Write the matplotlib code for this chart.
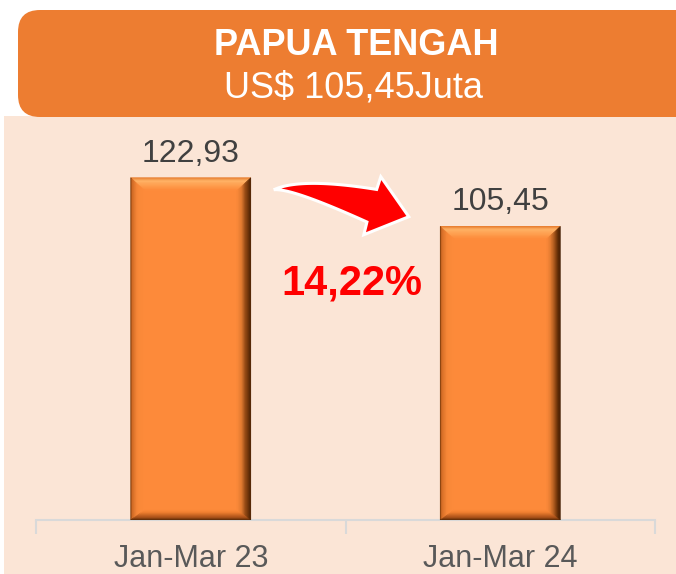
import matplotlib
matplotlib.use('Agg')
import matplotlib.pyplot as plt
import numpy as np
from matplotlib.patches import Rectangle, FancyBboxPatch, Polygon
from matplotlib.colors import to_rgb

plt.rcParams['font.family'] = ['Liberation Sans', 'DejaVu Sans']

# Data
categories = ['Jan-Mar 23', 'Jan-Mar 24']
values = [122.93, 105.45]
region = 'PAPUA TENGAH'

change = (values[0] - values[1]) / values[0] * 100
subtitle = 'US$ ' + f'{values[1]:.2f}'.replace('.', ',') + 'Juta'

W, H = 676, 574
fig = plt.figure(figsize=(W / 100, H / 100), dpi=100)
fig.patch.set_facecolor('white')

# background layer in pixel units (y down)
bg = fig.add_axes([0, 0, 1, 1], zorder=0)
bg.set_xlim(0, W)
bg.set_ylim(H, 0)
bg.axis('off')
bg.add_patch(Rectangle((4, 116), W - 4, H - 116, facecolor='#FBE5D6', edgecolor='none'))
bg.add_patch(FancyBboxPatch((18, 10), 720, 107, boxstyle='round,pad=0,rounding_size=22',
                            facecolor='#ED7D31', edgecolor='none'))
bg.text(356, 55, region, color='white', fontsize=26, fontweight='bold', ha='center', va='baseline')
bg.text(354, 98, subtitle, color='white', fontsize=26, ha='center', va='baseline')

# main chart
ax = fig.add_axes([36 / W, (H - 520) / H, 619 / W, (520 - 116) / H], zorder=1)
ax.set_facecolor('none')
x = np.arange(len(categories))
bar_w = 0.388
face = '#FD8A3A'
bars = ax.bar(x, values, width=bar_w, color=face, edgecolor='none', zorder=2)
ax.set_xlim(-0.5, len(categories) - 0.5)
ax.set_ylim(0, 145.1)

for s in ['top', 'right', 'left']:
    ax.spines[s].set_visible(False)
ax.spines['bottom'].set_color('#D9D9D9')
ax.spines['bottom'].set_linewidth(1.5)
ax.set_yticks([])
ax.set_xticks(x)
ax.set_xticklabels(categories, fontsize=22, color='#595959')
ax.tick_params(axis='x', which='major', length=0, pad=17)
ax.set_xticks(np.arange(-0.5, len(categories)), minor=True)
ax.tick_params(axis='x', which='minor', length=10, width=1.5, color='#D9D9D9')

# pixel -> data scale
px_x = 619 / len(categories)
px_y = (520 - 116) / 145.1


def mix(stops, t):
    ts = [s[0] for s in stops]
    cols = np.array([to_rgb(s[1]) for s in stops])
    return tuple(np.interp(t, ts, cols[:, k]) for k in range(3))


sides = {
    'top': [(0, '#E27528'), (0.25, '#FFB468'), (0.6, '#FFA050'), (1, face)],
    'right': [(0, '#3A1800'), (0.3, '#7A3A0C'), (0.7, '#E07A30'), (1, face)],
    'left': [(0, '#5A2800'), (0.12, '#D06A25'), (0.5, '#F88838'), (1, face)],
    'bottom': [(0, '#4A2000'), (0.3, '#A85018'), (0.8, '#F08030'), (1, face)],
}


def bevel(xc, h):
    l, r, t, b = xc - bar_w / 2, xc + bar_w / 2, h, 0
    bx = 14 / px_x
    bt = 13 / px_y
    bb = 10 / px_y
    n = 12
    for i in range(n):
        t0, t1 = i / n, (i + 1) / n
        tm = (t0 + t1) / 2
        polys = {
            'top': [(l + bx * t0, t - bt * t0), (r - bx * t0, t - bt * t0),
                    (r - bx * t1, t - bt * t1), (l + bx * t1, t - bt * t1)],
            'right': [(r - bx * t0, t - bt * t0), (r - bx * t0, b + bb * t0),
                      (r - bx * t1, b + bb * t1), (r - bx * t1, t - bt * t1)],
            'left': [(l + bx * t0, t - bt * t0), (l + bx * t0, b + bb * t0),
                     (l + bx * t1, b + bb * t1), (l + bx * t1, t - bt * t1)],
            'bottom': [(l + bx * t0, b + bb * t0), (r - bx * t0, b + bb * t0),
                       (r - bx * t1, b + bb * t1), (l + bx * t1, b + bb * t1)],
        }
        for side, pts in polys.items():
            c = mix(sides[side], tm)
            ax.add_patch(Polygon(pts, closed=True, facecolor=c, edgecolor=c, lw=0.4, zorder=3))


for xi, v in zip(x, values):
    bevel(xi, v)
    ax.annotate(f'{v:.2f}'.replace('.', ','), (xi, v), xytext=(0, 11.5), textcoords='offset points',
                ha='center', va='baseline', fontsize=23, color='#404040')

# curved arrow: tail anchored next to the top right corner of the first bar
corner = ax.transData.transform((x[0] + bar_w / 2, values[0]))
cx, cy = bg.transData.inverted().transform(corner)
p0 = np.array([cx + 23, cy + 12])
p2 = p0 + np.array([98, 16])
ctrl = p2 - 1.3 * np.array([57, 17])
tt = np.linspace(0, 1, 40)
centre = ((1 - tt) ** 2)[:, None] * p0 + (2 * (1 - tt) * tt)[:, None] * ctrl + (tt ** 2)[:, None] * p2
deriv = (2 * (1 - tt))[:, None] * (ctrl - p0) + (2 * tt)[:, None] * (p2 - ctrl)
normal = np.column_stack([deriv[:, 1], -deriv[:, 0]])
normal /= np.linalg.norm(normal, axis=1)[:, None]
half = 17 * tt ** 1.2
upper = centre + normal * half[:, None]
lower = centre - normal * half[:, None]
barb_top = p2 + np.array([9, -29])
barb_bot = p2 + np.array([-8, 29])
tip = p2 + np.array([37, 11])
shape = np.vstack([upper, [barb_top, tip, barb_bot], lower[::-1]])
bg.add_patch(Polygon(shape, closed=True, facecolor='#FF0000', edgecolor='white', lw=2.2,
                     joinstyle='miter', zorder=5))

ax.text(0.52, 85, f'{change:.2f}%'.replace('.', ','), color='#FF0000', fontsize=30,
        fontweight='bold', ha='center', va='center', zorder=4)

fig.savefig('out.png', dpi=100, facecolor='white')
